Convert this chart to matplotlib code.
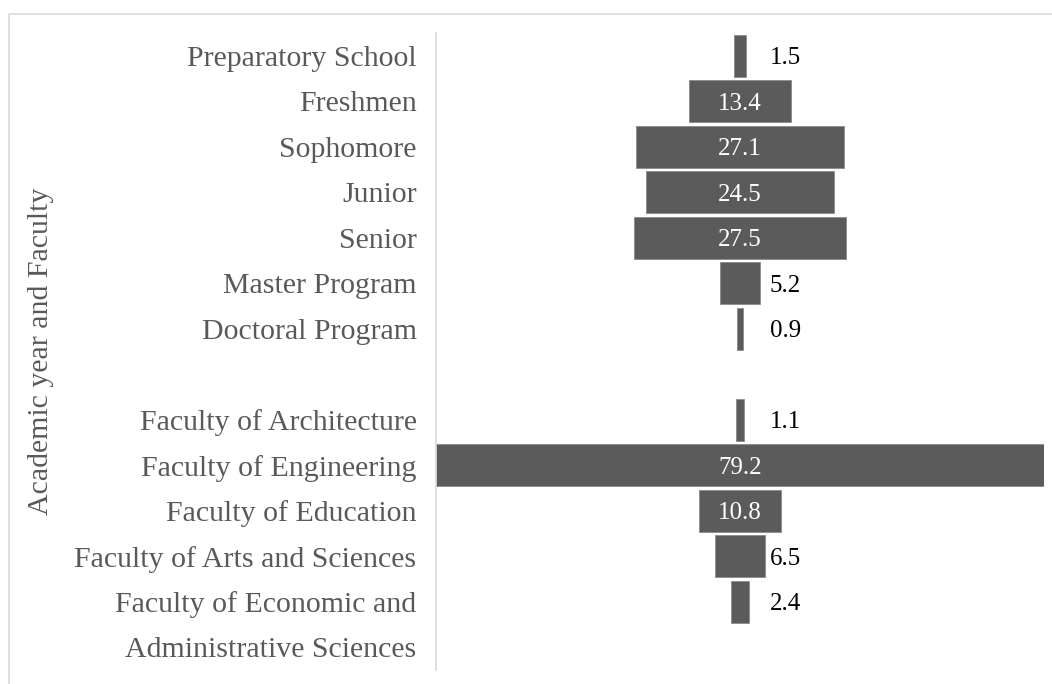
import matplotlib.pyplot as plt
from matplotlib.patches import Rectangle
from matplotlib.transforms import ScaledTranslation

plt.rcParams["font.family"] = ["Liberation Serif", "DejaVu Serif"]

# 학년 / 단과대학 (빈 문자열은 그룹 사이 여백)
categories = [
    "Preparatory School",
    "Freshmen",
    "Sophomore",
    "Junior",
    "Senior",
    "Master Program",
    "Doctoral Program",
    "",
    "Faculty of Architecture",
    "Faculty of Engineering",
    "Faculty of Education",
    "Faculty of Arts and Sciences",
    "Faculty of Economic and",
    "",
]
# 마지막 라벨의 둘째 줄
wrap_line = "Administrative Sciences"
values = [1.5, 13.4, 27.1, 24.5, 27.5, 5.2, 0.9, None, 1.1, 79.2, 10.8, 6.5, 2.4, None]

bar_color = "#5b5b5b"
text_gray = "#595959"

fig = plt.figure(figsize=(10.52, 6.84), dpi=100)
W, H = 1052, 684
ax = fig.add_axes([436 / W, 1 - 670 / H, 608 / W, 637 / H])

# 가운데 정렬 막대 (깔때기 모양)
max_v = max(v for v in values if v is not None)
for i, v in enumerate(values):
    if v is None:
        continue
    ax.barh(i, v, left=-v / 2, height=0.92, color=bar_color,
            edgecolor="#8a8a8a", linewidth=0.6)
    if v >= 8:
        ax.text(0, i, f"{v}", color="white", fontsize=18,
                ha="center", va="center_baseline")
    else:
        ax.text(3.9, i, f"{v}", color="black", fontsize=18,
                ha="left", va="center_baseline")

ax.set_xlim(-max_v / 2, max_v / 2)
ax.set_ylim(len(categories) - 0.5, -0.5)
ax.set_yticks(range(len(categories)))
ax.set_yticklabels(categories, fontsize=21.5, color=text_gray)
ax.tick_params(axis="y", length=0, pad=14)
ax.set_xticks([])

# 두 줄짜리 라벨의 아랫줄 (윗줄 기준 45px 아래)
last = len(values) - 2
ax.text(0, last, wrap_line, fontsize=21.5, color=text_gray,
        ha="right", va="center_baseline",
        transform=ax.get_yaxis_transform()
        + ScaledTranslation(-14 / 72, -0.45, fig.dpi_scale_trans))

for side in ["top", "right", "bottom"]:
    ax.spines[side].set_visible(False)
ax.spines["left"].set_color("#d9d9d9")
ax.spines["left"].set_linewidth(1.2)

ax.set_ylabel("Academic year and Faculty", fontsize=21.5, color=text_gray,
              va="center")
ax.yaxis.set_label_coords(-(436 - 41) / 608, 0.5)

# 차트 영역 테두리
fig.patches.append(Rectangle((8.5 / W, -0.1), 1.2, 1.1 - 14.5 / H,
                             transform=fig.transFigure, fill=False,
                             edgecolor="#d9d9d9", linewidth=1.2))

plt.savefig("out.png", dpi=100)
